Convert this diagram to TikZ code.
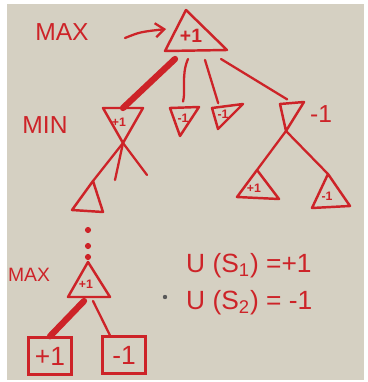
\documentclass[tikz,border=0pt]{standalone}
\usepackage{fontspec}
\setmainfont{Liberation Sans}
\usetikzlibrary{arrows.meta,calc}

\definecolor{ink}{RGB}{205,35,40}
\definecolor{board}{RGB}{213,208,194}

\begin{document}
\begin{tikzpicture}[
  x=0.02cm, y=-0.02cm,
  tri/.style={draw=ink, line width=1.4pt, line join=round},
  edge/.style={draw=ink, line width=1.3pt, line cap=round},
  best/.style={draw=ink, line width=3.6pt, line cap=round},
  lab/.style={text=ink, font=\fontsize{14}{14}\selectfont},
  val/.style={text=ink, inner sep=0pt, font=\fontsize{7}{7}\selectfont\bfseries},
  leaf/.style={draw=ink, line width=1.4pt, text=ink, minimum width=0.86cm, minimum height=0.74cm, font=\fontsize{15}{15}\selectfont},
  dotmark/.style={circle, fill=ink, inner sep=0pt, minimum size=3.5pt},
  util/.style={text=ink, anchor=west, font=\fontsize{15}{15}\selectfont}
]
\useasboundingbox (0,0) rectangle (368,382);
\fill[board] (7,4) rectangle (364,380);

% root (max)
\draw[tri] (165,51) coordinate (rootL) -- (186,10) coordinate (rootA) -- (227,50) coordinate (rootR) -- cycle;
\node[val, font=\fontsize{11}{11}\selectfont\bfseries] (root) at (191,36) {+1};
\node[lab] (maxlab) at (62,32) {MAX};
\coordinate (maxtail) at (125,38);
\coordinate (maxtip) at (166,29);
\draw[edge, -{Straight Barb[length=5pt,width=8pt]}] (maxtail) .. controls (140,32) .. (maxtip);

% min level
\node[lab] (minlab) at (45,125) {MIN};
\draw[tri] (103,108) coordinate (m1L) -- (143,108) coordinate (m1R) -- (123,143) coordinate (m1B) -- cycle;
\node[val] (m1) at (119,122) {+1};
\draw[tri] (170,108) coordinate (m2L) -- (199,107) coordinate (m2R) -- (180,136) coordinate (m2B) -- cycle;
\node[val] (m2) at (183,118) {-1};
\draw[tri] (212,108) coordinate (m3L) -- (243,104) coordinate (m3R) -- (218,129) coordinate (m3B) -- cycle;
\node[val] (m3) at (223,114) {-1};
\draw[tri] (280,104) coordinate (m4L) -- (304,102) coordinate (m4R) -- (286,131) coordinate (m4B) -- cycle;
\node[lab] (m4) at (321,114) {-1};

% root moves
\draw[best] (175,59) -- ($(m1L)!.5!(m1R)$);
\draw[edge] (188,59) .. controls (181,75) and (186,90) .. ($(m2L)!.45!(m2R)+(0,-6)$);
\draw[edge] (205,60) -- ($(m3L)!.2!(m3R)+(0,-4)$);
\draw[edge] (221,59) -- ($(m4L)!.3!(m4R)+(0,-4)$);

% below first min node
\draw[tri] (72,210) coordinate (lcL) -- (93,181) coordinate (lcA) -- (103,212) coordinate (lcR) -- cycle;
\coordinate (stub1) at (115,180);
\coordinate (stub2) at (147,175);
\draw[edge] (m1B) -- (lcA);
\draw[edge] (m1B) -- (stub1);
\draw[edge] (m1B) -- (stub2);

% below last min node
\draw[tri] (237,197) coordinate (r1L) -- (257,170) coordinate (r1A) -- (279,199) coordinate (r1R) -- cycle;
\node[val] (r1) at (254,188) {+1};
\draw[tri] (312,208) coordinate (r2L) -- (328,174) coordinate (r2A) -- (350,206) coordinate (r2R) -- cycle;
\node[val] (r2) at (327,196) {-1};
\draw[edge] (m4B) -- (r1A);
\draw[edge] (m4B) -- (r2A);

% dots
\node[dotmark] (d1) at (88,230) {};
\node[dotmark] (d2) at (88,246) {};
\node[dotmark] (d3) at (88,257) {};

% lower max node
\node[lab, font=\fontsize{11}{11}\selectfont] (max2lab) at (29,275) {MAX};
\draw[tri] (68,297) coordinate (mxL) -- (88,262) coordinate (mxA) -- (110,297) coordinate (mxR) -- cycle;
\node[val] (mx) at (86,284) {+1};

% terminal states
\node[leaf] (b1) at (50,356) {+1};
\node[leaf] (b2) at (124,355) {-1};
\draw[best] (84,301) -- (b1.north);
\draw[edge] (93,301) -- ([xshift=-8]b2.north);

% utilities
\node[util] (u1) at (180,266) {U (S\textsubscript{1}) =+1};
\node[util] (u2) at (180,303) {U (S\textsubscript{2}) = -1};
\node[circle, fill=gray!70!black, inner sep=0pt, minimum size=2.5pt] (spot) at (165,297) {};

\end{tikzpicture}
\end{document}
